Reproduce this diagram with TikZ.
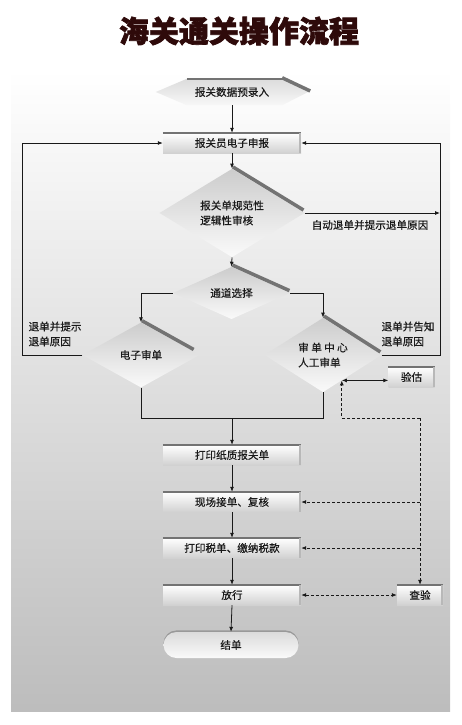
\documentclass[tikz,border=0pt]{standalone}
\usepackage{fontspec}
\newfontfamily\cjk[FakeBold=0.4]{Noto Sans CJK SC}
\newfontfamily\cjkT[BoldFeatures={FakeBold=2.2}]{Noto Sans CJK SC}
\usetikzlibrary{arrows.meta,shapes.geometric,shapes.misc,calc}
\pgfdeclarelayer{panel}
\pgfdeclarelayer{bg}
\pgfsetlayers{panel,bg,main}
\definecolor{ttl}{RGB}{46,10,10}
\definecolor{ink}{RGB}{25,25,25}
\begin{document}
\begin{tikzpicture}[x=1pt,y=-1pt,
  font=\cjk\fontsize{10.6}{15}\selectfont, text=ink,
  conn/.style={draw=ink, line width=0.8pt},
  arr/.style={conn,-{Latex[length=5pt,width=4pt]}},
  darr/.style={conn,{Latex[length=5pt,width=4pt]}-{Latex[length=5pt,width=4pt]}},
  dsh/.style={dash pattern=on 3pt off 2pt},
  box/.style={rectangle, minimum width=138pt, minimum height=20pt, inner sep=0pt, top color=white, bottom color=black!18},
  sbox/.style={rectangle, minimum width=46pt, minimum height=20pt, inner sep=0pt, top color=white, bottom color=black!18},
  dia/.style={diamond, inner sep=0pt, top color=black!20, bottom color=black!2},
  bar/.style={draw=black!55, line width=3.5pt},
  topedge/.style={draw=black!55, line width=1.8pt},
  sideedge/.style={draw=black!28, line width=2pt}
]
\useasboundingbox (0,0) rectangle (462,725);

% title
\node[font=\cjkT\bfseries\fontsize{30}{30}\selectfont, text=ttl] (title) at (239,31) {海关通关操作流程};

% nodes
\node[minimum width=152pt, minimum height=26pt, inner sep=0pt] (n1) at (232,92) {报关数据预录入};
\node[box] (n2) at (232,143) {报关员电子申报};
\node[dia, minimum width=145pt, minimum height=66pt, align=left] (d1) at (232,213) {报关单规范性\\逻辑性审核};
\node[dia, minimum width=117pt, minimum height=40pt] (d2) at (231.5,293) {通道选择};
\node[dia, minimum width=117pt, minimum height=65pt] (d3) at (141,355) {电子审单};
\node[dia, minimum width=117pt, minimum height=65pt, align=left] (d4) at (323,355) {审 单 中 心\\人工审单};
\node[sbox] (yg) at (411.5,377) {验估};
\node[box] (n5) at (232,455) {打印纸质报关单};
\node[box] (n6) at (232,502) {现场接单、复核};
\node[box] (n7) at (232,548) {打印税单、缴纳税款};
\node[box] (n8) at (232,595) {放行};
\node[sbox] (cy) at (420,595) {查验};
\node[rounded rectangle, minimum width=135pt, minimum height=26pt, inner sep=0pt,
      preaction={fill=black!40, transform canvas={yshift=1.6pt}},
      top color=black!14, bottom color=black!2] (js) at (231,645) {结单};

% labels
\node (lbA) at (370,225) {自动退单并提示退单原因};
\node[anchor=west, align=left] (lbL) at (25,334) {退单并提示\\退单原因};
\node[anchor=west, align=left] (lbR) at (378,334) {退单并告知\\退单原因};

% hexagon corner points
\coordinate (h1) at ([xshift=31pt]n1.north west);
\coordinate (h2) at ([xshift=-26pt]n1.north east);
\coordinate (h3) at ([xshift=-26pt]n1.south east);
\coordinate (h4) at ([xshift=31pt]n1.south west);

% background and decorations
\begin{pgfonlayer}{panel}
  \fill[top color=white, bottom color=black!26] (11,70) rectangle (450,711);
\end{pgfonlayer}
\begin{pgfonlayer}{bg}
  \path[top color=black!14, bottom color=black!3]
    (n1.west) -- (h1) -- (h2) -- (n1.east) -- (h3) -- (h4) -- cycle;
\end{pgfonlayer}
\draw[topedge] (h1) -- (h2);
\draw[bar] ([shift={(0pt,1pt)}]h2) -- ([shift={(2pt,1pt)}]n1.east);

\foreach \b in {n2,n5,n6,n7,n8,yg,cy}{
  \draw[topedge] (\b.north west) -- (\b.north east);
  \draw[sideedge] ([xshift=-1pt]\b.north east) -- ([xshift=-1pt]\b.south east);
}

\coordinate (d1b) at ($(d1.north)!0.97!(d1.east)$);
\coordinate (d2b) at ($(d2.north)!0.97!(d2.east)$);
\coordinate (d3b) at ($(d3.north)!0.88!(d3.east)$);
\coordinate (d4b) at ($(d4.north)!0.96!(d4.east)$);
\foreach \d in {d1,d2,d3,d4}{
  \draw[bar] ([shift={(1pt,1.6pt)}]\d.north) -- ([shift={(1pt,1.6pt)}]\d b);
}

% connectors
\coordinate (rt) at (440,143);
\coordinate (lt) at (22,143);
\coordinate (mj) at (232,418);
\coordinate (dj) at (420,418);
\coordinate (ya) at ($(d4.south)!0.32!(d4.east)$);

\draw[arr] (n1.south) -- (n2.north);
\draw[arr] (n2.south) -- (d1.north);
\draw[arr] (d1.south) -- (d2.north);
\draw[arr] (d2.west) -| (d3.north);
\draw[arr] (d2.east) -| (d4.north);
\draw[arr] (d1.east) -- (d1.east -| rt);
\draw[arr] (d4.east) -| (rt) -- (n2.east);
\draw[arr] (d3.west) -| (lt) -- (n2.west);
\draw[conn] (d3.south) |- (mj);
\draw[conn] (d4.south) |- (mj);
\draw[arr] (mj) -- (n5.north);
\draw[arr] (n5.south) -- (n6.north);
\draw[arr] (n6.south) -- (n7.north);
\draw[arr] (n7.south) -- (n8.north);
\draw[arr] (n8.south) -- (js.north);
\draw[darr] (ya) -- (ya -| yg.west);
\draw[arr, dsh] (dj) -| (ya);
\draw[arr, dsh] (dj) -- (cy.north);
\draw[arr, dsh] (n6.east -| dj) -- (n6.east);
\draw[arr, dsh] (n7.east -| dj) -- (n7.east);
\draw[darr, dsh] (n8.east) -- (cy.west);
\end{tikzpicture}
\end{document}
